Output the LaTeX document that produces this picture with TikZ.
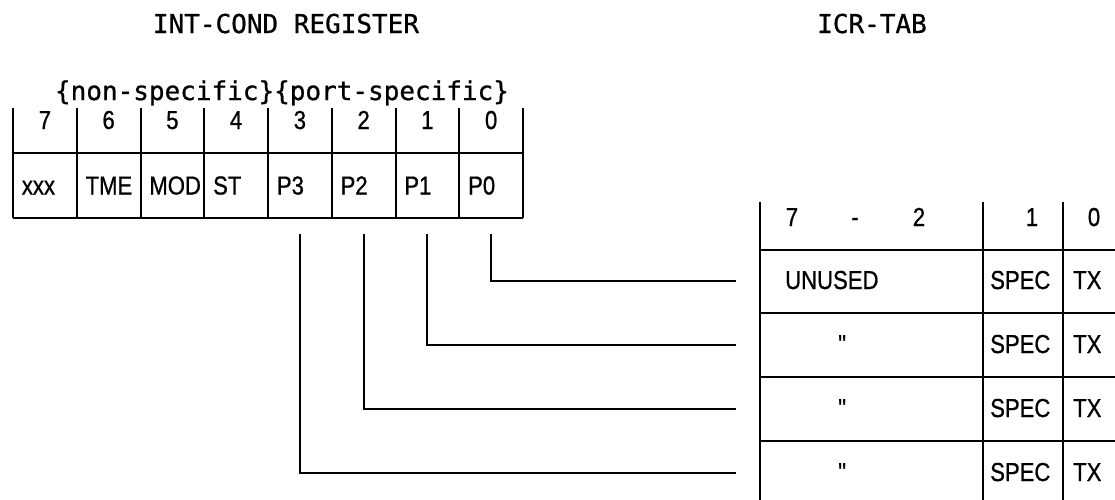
\documentclass[tikz,border=0pt]{standalone}
\usepackage{fontspec}
\setmainfont{Liberation Sans}
\newfontfamily\plotSans[FakeStretch=0.85, FakeBold=0.8]{Liberation Sans}
\newfontfamily\plotMono[FakeBold=0.8]{DejaVu Sans Mono}
\usepackage{tikz}
\usetikzlibrary{positioning}
\tikzset{
  %% ── Text ─────────────────────────────────────────────────────────────
  titre/.style      = {font=\plotMono\fontsize{26}{30}\selectfont,
                       inner sep=0pt, anchor=base},
  chiffre/.style    = {font=\plotSans\fontsize{26}{30}\selectfont,
                       inner sep=0pt, anchor=base},
  champ/.style      = {font=\plotSans\fontsize{26}{30}\selectfont,
                       inner sep=0pt, anchor=base west},
  %% ── Cells ────────────────────────────────────────────────────────────
  cellule/.style    = {font=\plotSans\fontsize{26}{30}\selectfont,
                       inner sep=0pt,
                       minimum width=63.75pt, minimum height=65pt,
                       text width=46pt, align=left,
                       text height=18pt, text depth=0pt},
  %% ── Lines ────────────────────────────────────────────────────────────
  trait/.style      = {draw=black, line width=2pt},
  liaison/.style    = {draw=black, line width=2pt},
}

\begin{document}
\begin{tikzpicture}[x=1pt, y=-1pt]
\useasboundingbox (0,0) rectangle (1115,499);
\clip (0,0) rectangle (1115,499);

\node[titre] (titreReg) at (286,33) {INT-COND REGISTER};
\node[titre] (titreTab) at (872,33) {ICR-TAB};
\node[titre] (portee)   at (282,100) {\{non-specific\}\{port-specific\}};

%% INT-COND register
\foreach \i in {0,...,8}
  \draw[trait] ({13+63.75*\i},108) -- ({13+63.75*\i},218);
\draw[trait] (13,153) -- (523,153);
\draw[trait] (13,218) -- (523,218);

\foreach \b [count=\i from 0] in {7,...,0}
  \node[chiffre] (bit\b) at ({13+63.75*(\i+0.5)},129) {\b};

\foreach \t [count=\i from 0] in {xxx,TME,MOD,ST,P3,P2,P1,P0}{
  \pgfmathtruncatemacro\b{7-\i}
  \node[cellule] (reg\b) at ({13+63.75*(\i+0.5)},185.5) {\t};
}

%% ICR-TAB
\foreach \x in {760,983,1063}
  \draw[trait] (\x,202) -- (\x,515);
\foreach \y in {250,313,377,441}
  \draw[trait] (760,\y) -- (1140,\y);

\node[chiffre] (tabSept)  at (792,226)  {7};
\node[chiffre] (tabTiret) at (855,226)  {-};
\node[chiffre] (tabDeux)  at (919,226)  {2};
\node[chiffre] (tabUn)    at (1032,226) {1};
\node[chiffre] (tabZero)  at (1094,226) {0};

\foreach \y/\t [count=\k from 0] in {281/UNUSED, 345/{\hspace*{53pt}\symbol{34}},
                                     409/{\hspace*{53pt}\symbol{34}},
                                     473/{\hspace*{53pt}\symbol{34}}}{
  \node[champ] (lib\k)  at (785,\y+8)  {\t};
  \node[champ] (spec\k) at (990,\y+8)  {SPEC};
  \node[champ] (tx\k)   at (1073,\y+8) {TX};
  \coordinate (fin\k) at (736,\y);
}

\foreach \k in {0,...,3}
  \draw[liaison] ([yshift=-16pt]reg\k.south) |- (fin\k);

\end{tikzpicture}
\end{document}
